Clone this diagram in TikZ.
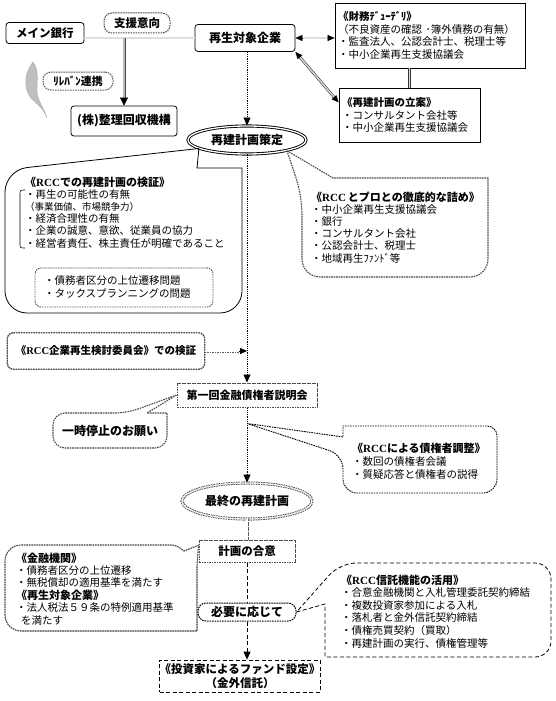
\documentclass[tikz,border=0pt]{standalone}
\usepackage{fontspec}
\setmainfont{Noto Sans CJK JP}
\newfontfamily\serifrcc{Liberation Serif}
\newcommand{\RCC}{{\serifrcc RCC}}
\newcommand{\bubtitle}[1]{{\bfseries\fontsize{11}{12.2}\selectfont #1}}
\usetikzlibrary{shapes.geometric,arrows.meta,calc}

\tikzset{
	box/.style={draw, line width=0.8pt, rounded corners=3pt, inner sep=0pt, font=\bfseries\fontsize{12}{14}\selectfont},
	infobox/.style={draw, line width=0.8pt, align=left, inner sep=0pt, font=\fontsize{10.5}{12.5}\selectfont},
	dotbox/.style={draw=black!70, line width=1pt, dash pattern=on 1.6pt off 0.9pt, inner sep=0pt, font=\bfseries\fontsize{11}{13}\selectfont},
	pill/.style={dotbox, rounded corners=8pt},
	flow/.style={line width=0.8pt, dash pattern=on 1.2pt off 1pt, -{Triangle[length=8pt,width=7pt]}},
	dbl/.style={draw=black!80, double=gray!25, double distance=1.4pt, line width=0.6pt},
	dotdbl/.style={draw=gray!70!black, line width=0.8pt, dash pattern=on 1.6pt off 0.9pt, double=white, double distance=1.4pt},
	arrowend/.style={-{Triangle[length=7pt,width=6pt]}},
	dashflow/.style={dash pattern=on 4pt off 2.5pt, line width=0.8pt},
	bubble/.style={draw, line width=0.8pt},
	dotbubble/.style={draw=gray!60!black, line width=1.1pt, dash pattern=on 1.6pt off 0.9pt},
	underline/.style={draw=gray!55, line width=0.6pt},
	% anchored at the baseline of the last line
	bubtext/.style={anchor=base west, inner sep=0pt, align=left, font=\fontsize{10.5}{12.2}\selectfont},
}

\begin{document}
\begin{tikzpicture}[x=1pt,y=-1pt]
	\useasboundingbox (0,0) rectangle (556,701);

	% Top row
	\node[box, minimum width=78pt, minimum height=21pt, font=\bfseries\fontsize{11.5}{13}\selectfont] (bank) at (45,33) {メイン銀行};
	\node[box, minimum width=100pt, minimum height=27pt] (company) at (245,38) {再生対象企業};
	\node[pill, minimum width=66pt, minimum height=20pt, font=\bfseries\fontsize{11.5}{13}\selectfont] (support) at (137,23) {支援意向};
	\node[box, minimum width=106pt, minimum height=30pt] (rcc) at (124,121) {(株)整理回収機構};
	\node[pill, draw=gray!70!black, minimum width=70pt, minimum height=18pt] (relban) at (78,81) {ﾘﾚﾊﾞﾝ連携};

	% Gray swirl
	\filldraw[fill=gray!50, draw=gray!65] (33,62) .. controls (22,76) and (24,94) .. (35,102) .. controls (41,107) and (45,112) .. (47,118) .. controls (43,106) and (37,100) .. (37,90) .. controls (37,80) and (39,70) .. (33,62);

	% Bank -- company, and down to RCC
	\coordinate (split) at (rcc.north |- company.west);
	\draw[dbl] (bank.east |- company.west) -- (company.west);
	\draw[draw=gray!60!black, double=gray!55, double distance=2pt, line width=0.5pt, shorten >=7pt] (split) -- (rcc.north);
	\draw[-{Triangle[length=8pt,width=8pt]}] ($(rcc.north)+(0,-8)$) -- (rcc.north);

	% Due diligence and plan drafting
	\node[infobox, text width=184pt, inner xsep=3pt, minimum height=65pt] (dd) at (430,35.5) {\textbf{《財務ﾃﾞｭｰﾃﾞﾘ》}\\（不良資産の確認 ･簿外債務の有無）\\・監査法人、公認会計士、税理士等\\・中小企業再生支援協議会};
	\node[infobox, text width=135pt, inner xsep=3pt, minimum height=54pt] (draft) at (409.5,115) {\textbf{《再建計画の立案》}\\・コンサルタント会社等\\・中小企業再生支援協議会};
	\draw[dbl] (draft.north |- dd.south) -- (draft.north);

	% Double arrows
	\coordinate (ddin) at (company.east -| dd.west);
	\draw[dbl, shorten <=6pt, shorten >=6pt] (company.east) -- (ddin);
	\draw[arrowend] ($(company.east)!7pt!(ddin)$) -- (company.east);
	\draw[arrowend] ($(ddin)!7pt!(company.east)$) -- (ddin);
	\draw[dbl, shorten <=6pt, shorten >=6pt] (company.south east) -- (draft.170);
	\draw[arrowend] ($(company.south east)!7pt!(draft.170)$) -- (company.south east);
	\draw[arrowend] ($(draft.170)!7pt!(company.south east)$) -- (draft.170);

	% Plan
	\node[ellipse, draw, line width=0.9pt, double, double distance=1.3pt, minimum width=118pt, minimum height=28pt, inner sep=0pt, font=\bfseries\fontsize{12}{14}\selectfont] (plan) at (247,140) {再建計画策定};
	\draw[flow] (company.south -| plan.north) -- (plan.north);

	% RCC check bubble
	\draw[bubble] (plan.190) -- (197,168) -- (242,168) [rounded corners=22pt] -- (242,313) -- (5,313) -- (5,170) -- (plan.190);
	\draw[line width=0.6pt] (25,190) .. controls (20,190) .. (20,195) -- (20,243) .. controls (20,248) .. (25,248);
	\node[bubtext] (verifytext) at (25,247) {\bubtitle{《\RCC での再建計画の検証》}\\・再生の可能性の有無\\{\fontsize{9.5}{12.2}\selectfont （事業価値、市場競争力）}\\・経済合理性の有無\\・企業の誠意、意欲、従業員の協力\\・経営者責任、株主責任が明確であること};
	\node[draw=gray!70!black, line width=0.9pt, dash pattern=on 1.6pt off 0.9pt, rounded corners=6pt, minimum width=178pt, minimum height=39pt, text width=160pt, inner xsep=9pt, align=left, font=\fontsize{10.5}{13}\selectfont] (taxbox) at (124,287.5) {・債務者区分の上位遷移問題\\・タックスプランニングの問題};

	% Professionals bubble
	\draw[dotbubble] (plan.345) -- (333,178) -- (488,178) [rounded corners=18pt] -- (488,277) -- (302,277) -- (302,196) [sharp corners] -- (plan.345);
	\node[bubtext] (protext) at (311,262) {\bubtitle{《\RCC\,とプロとの徹底的な詰め》}\\・中小企業再生支援協議会\\・銀行\\・コンサルタント会社\\・公認会計士、税理士\\・地域再生ﾌｧﾝﾄﾞ等};

	% First creditors meeting
	\node[dotbox, minimum width=140pt, minimum height=24pt] (first) at (247,395) {第一回金融債権者説明会};
	\draw[flow] (plan.south) -- (first.north);
	\node[minimum width=197pt, minimum height=36pt, inner sep=0pt, font=\bfseries\fontsize{10.5}{12}\selectfont] (committee) at (106,351) {《\RCC 企業再生検討委員会》での検証};
	\draw[underline, rounded corners=6pt] (committee.north west) rectangle (committee.south east);
	\draw[dotbubble, line width=1.3pt, rounded corners=6pt] (committee.north west) -- (committee.north east) -- (committee.south east) -- (committee.south west) -- cycle;
	\coordinate (join) at (committee.east -| first.north);
	\draw[dotdbl, shorten >=7pt] (committee.east) -- (join);
	\draw[arrowend] ($(join)+(-8,0)$) -- (join);

	% Standstill bubble
	\draw[dotbubble] (first.west) -- (147,413) -- (167,413) [rounded corners=12pt] -- (167,448) -- (53,448) -- (53,413) -- (127,413) [sharp corners] -- (first.west);
	\node[inner sep=0pt, font=\bfseries\fontsize{12}{14}\selectfont] (pause) at (110,431) {一時停止のお願い};

	% Creditor adjustment bubble
	\coordinate (adjtip) at ($(first.south)+(0,16)$);
	\draw[bubble, line width=0.9pt, dash pattern=on 1.6pt off 0.9pt] (adjtip) -- (343,437) -- (343,426) [rounded corners=10pt] -- (497,426) [rounded corners=14pt] -- (497,493) -- (343,493) -- (343,455) [sharp corners] -- (adjtip);
	\node[bubtext, font=\fontsize{10.5}{13}\selectfont] (adjtext) at (352,478) {\bubtitle{《\RCC による債権者調整》}\\・数回の債権者会議\\・質疑応答と債権者の説得};

	% Final plan
	\node[ellipse, draw=gray!60!black, line width=0.9pt, dash pattern=on 1.6pt off 0.9pt, double=white, double distance=1.3pt, minimum width=130pt, minimum height=36pt, inner sep=0pt, font=\bfseries\fontsize{12}{14}\selectfont] (final) at (247,501) {最終の再建計画};
	\draw[flow] (first.south) -- (final.north);
	\node[dotbox, draw=gray!60!black, minimum width=96pt, minimum height=22pt, font=\bfseries\fontsize{11.5}{13}\selectfont] (agree) at (247,551) {計画の合意};
	\draw[dotdbl] (final.south) -- (agree.north);

	% Financial institutions bubble
	\coordinate (banktip) at ($(agree.north west)!0.25!(agree.south west)$);
	\draw[underline] (90,545) [rounded corners=5pt] -- (176,545) [sharp corners] -- (184,551) -- (banktip) -- (197,566) -- (197,631) [rounded corners=16pt] -- (5,631) -- (5,545) -- (90,545);
	\draw[dotbubble] (90,545) [rounded corners=5pt] -- (176,545) [sharp corners] -- (184,551) -- (banktip) -- (197,566) -- (197,631) [rounded corners=16pt] -- (5,631) -- (5,545) -- (90,545);
	\node[bubtext, font=\fontsize{10.5}{12.4}\selectfont] (banktext) at (16,624) {\bubtitle{《金融機関》}\\・債務者区分の上位遷移\\・無税償却の適用基準を満たす\\\bubtitle{《再生対象企業》}\\・法人税法５９条の特例適用基準\\\hspace{5pt}を満たす};

	% Fund
	\node[pill, draw=black, minimum width=98pt, minimum height=18pt, font=\bfseries\fontsize{12}{14}\selectfont] (need) at (247,612) {必要に応じて};
	\node[draw, dash pattern=on 4pt off 2.5pt, line width=0.8pt, minimum width=155pt, minimum height=32pt, inner sep=0pt, align=center, font=\bfseries\fontsize{11.5}{13.5}\selectfont] (fund) at (240,676) {《投資家によるファンド設定》\\（金外信託）};
	\draw[dashflow] (agree.south) -- (need.north);
	\draw[dashflow, -{Triangle[length=8pt,width=7pt]}] (need.south) -- (need.south |- fund.north);

	% Trust bubble
	\draw[bubble, dash pattern=on 4pt off 2.5pt] (need.east) -- (325,604) -- (325,657) [rounded corners=16pt] -- (551,657) -- (551,563) -- (340,563) [sharp corners] -- (need.east);
	\node[bubtext, font=\fontsize{10.5}{12.6}\selectfont] (trusttext) at (341,647) {\bubtitle{《\RCC 信託機能の活用》}\\・合意金融機関と入札管理委託契約締結\\・複数投資家参加による入札\\・落札者と金外信託契約締結\\・債権売買契約（買取）\\・再建計画の実行、債権管理等};

\end{tikzpicture}
\end{document}
